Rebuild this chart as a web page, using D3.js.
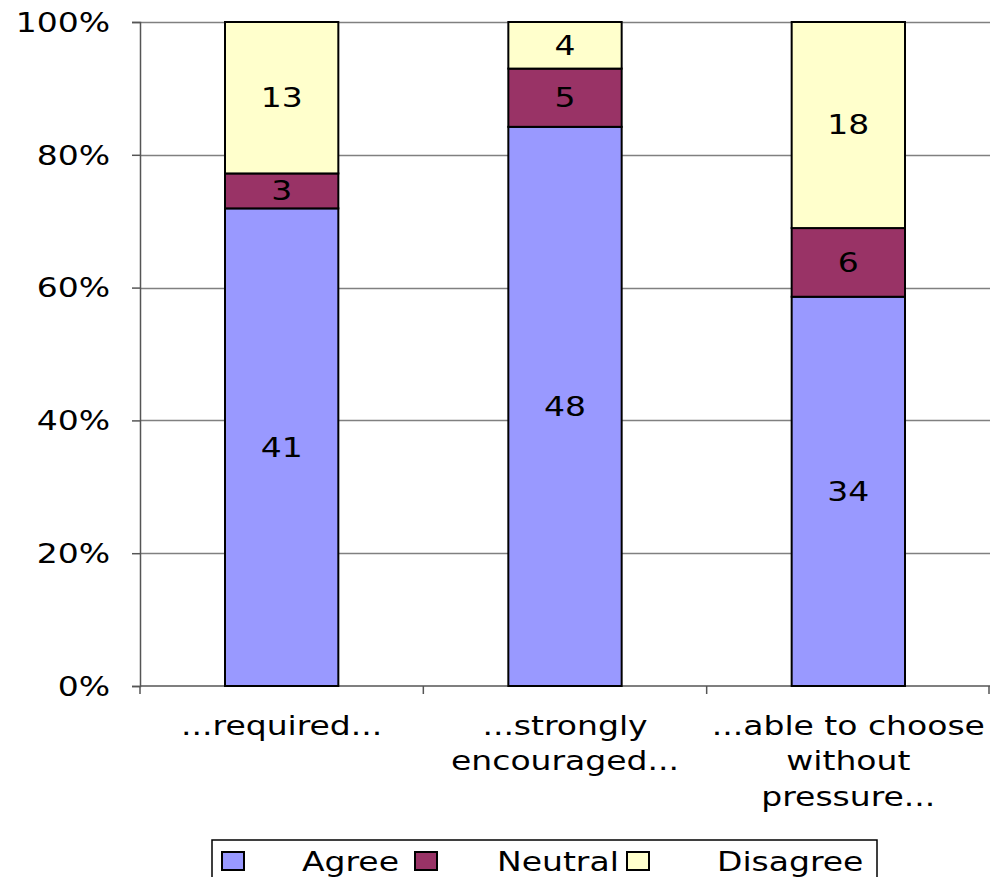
<!DOCTYPE html>
<html>
<head>
<meta charset="utf-8">
<script src="https://cdn.jsdelivr.net/npm/d3@7"></script>
<style>
  html, body { margin: 0; padding: 0; background: #fff; }
  svg { display: block; }
  text { font-family: "DejaVu Sans", Verdana, sans-serif; fill: #000; }
</style>
</head>
<body>
<svg id="chart" width="990" height="877"></svg>
<script>
// Survey responses per statement (counts), drawn as 100% stacked columns
const categories = [
  ["...required..."],
  ["...strongly", "encouraged..."],
  ["...able to choose", "without", "pressure..."]
];
const seriesNames = ["Agree", "Neutral", "Disagree"];
const agree    = [41, 48, 34];
const neutral  = [3, 5, 6];
const disagree = [13, 4, 18];
const seriesColors = ["#9999FF", "#993366", "#FFFFCC"];
const yTicks = [0, 0.2, 0.4, 0.6, 0.8, 1.0];

const FONT_SIZE = 26;
const STRETCH = 1.27; // wide, Verdana-like lettering

const svg = d3.select("#chart");
const margin = { left: 140, right: 0, top: 22, bottom: 191 };
const W = 990, H = 877;
const plotH = H - margin.top - margin.bottom;

// places a text at (x, y) with horizontally widened glyphs
function wideText(sel, x, y) {
  return sel.attr("x", 0).attr("y", 0)
    .attr("transform", `translate(${x},${y}) scale(${STRETCH},1)`)
    .attr("font-size", FONT_SIZE);
}

const rows = categories.map((c, i) => ({
  key: c.join(" "), lines: c,
  Agree: agree[i], Neutral: neutral[i], Disagree: disagree[i]
}));

const stacked = d3.stack().keys(seriesNames).offset(d3.stackOffsetExpand)(rows);

const x = d3.scaleBand().domain(rows.map(r => r.key)).range([margin.left, W - margin.right]).padding(0);
const y = d3.scaleLinear().domain([0, 1]).range([margin.top + plotH, margin.top]);
const color = d3.scaleOrdinal().domain(seriesNames).range(seriesColors);
const barW = x.bandwidth() * 0.4;

// gridlines
svg.append("g").selectAll("line").data(yTicks.slice(1)).join("line")
  .attr("x1", margin.left).attr("x2", W)
  .attr("y1", d => Math.round(y(d)) + 0.5).attr("y2", d => Math.round(y(d)) + 0.5)
  .attr("stroke", "#808080").attr("stroke-width", 1.5);

// y axis
const yAxis = d3.axisLeft(y).tickValues(yTicks).tickFormat(d3.format(".0%")).tickSize(8).tickPadding(22);
const gy = svg.append("g").attr("transform", `translate(${margin.left},0)`).call(yAxis);
gy.select(".domain").attr("stroke", "#555").attr("stroke-width", 1.5);
gy.selectAll(".tick line").attr("stroke", "#555").attr("stroke-width", 1.5);
gy.selectAll(".tick text")
  .attr("font-family", "DejaVu Sans, Verdana, sans-serif").attr("fill", "#000")
  .attr("dy", "0.36em")
  .each(function () { wideText(d3.select(this), -30, 0); });

// x axis with ticks at category boundaries
const boundaries = d3.range(rows.length + 1).map(i => margin.left + i * x.step());
const gx = svg.append("g");
gx.append("line").attr("x1", margin.left).attr("x2", W)
  .attr("y1", y(0)).attr("y2", y(0)).attr("stroke", "#555").attr("stroke-width", 1.5);
gx.selectAll("line.tk").data(boundaries).join("line").attr("class", "tk")
  .attr("x1", d => Math.min(d, W - 1)).attr("x2", d => Math.min(d, W - 1))
  .attr("y1", y(0)).attr("y2", y(0) + 8).attr("stroke", "#555").attr("stroke-width", 1.5);

// bars
const layers = svg.append("g").selectAll("g").data(stacked).join("g")
  .attr("fill", d => color(d.key));
layers.selectAll("rect").data(d => d).join("rect")
  .attr("x", d => x(d.data.key) + (x.bandwidth() - barW) / 2)
  .attr("width", barW)
  .attr("y", d => y(d[1]))
  .attr("height", d => y(d[0]) - y(d[1]))
  .attr("stroke", "#000").attr("stroke-width", 2);

// segment value labels
const labels = svg.append("g");
stacked.forEach(layer => {
  layer.forEach(d => {
    wideText(labels.append("text"), x(d.data.key) + x.bandwidth() / 2, (y(d[0]) + y(d[1])) / 2)
      .attr("dy", "0.36em")
      .attr("text-anchor", "middle")
      .text(d.data[layer.key]);
  });
});

// category labels
const cat = svg.append("g");
rows.forEach(r => {
  const t = wideText(cat.append("text"), x(r.key) + x.bandwidth() / 2, 735)
    .attr("text-anchor", "middle");
  r.lines.forEach((ln, i) => {
    t.append("tspan").attr("x", 0).attr("dy", i === 0 ? 0 : 35.5).text(ln);
  });
});

// legend
const legend = svg.append("g");
legend.append("rect").attr("x", 212).attr("y", 840).attr("width", 665).attr("height", 45)
  .attr("fill", "#fff").attr("stroke", "#000").attr("stroke-width", 1.5);
const itemX = [222, 415, 627];
const textX = [302, 497, 717];
seriesNames.forEach((s, i) => {
  legend.append("rect").attr("x", itemX[i]).attr("y", 852).attr("width", 22).attr("height", 18)
    .attr("fill", color(s)).attr("stroke", "#000").attr("stroke-width", 2);
  wideText(legend.append("text"), textX[i], 871).text(s);
});
</script>
</body>
</html>
